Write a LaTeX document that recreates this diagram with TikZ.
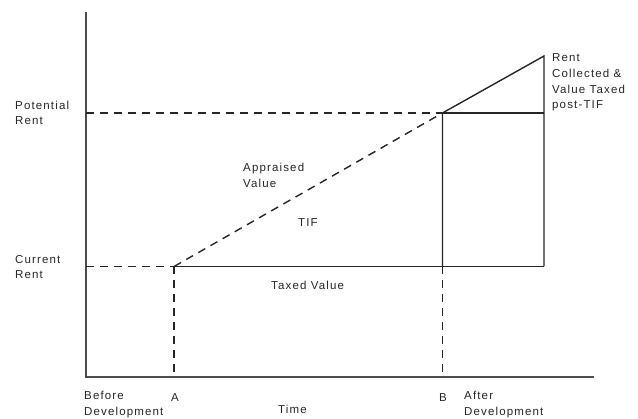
\documentclass[tikz,border=0pt]{standalone}
\usepackage{fontspec}
\setmainfont{Liberation Sans}[LetterSpace=10]
\begin{document}
\begin{tikzpicture}[x=1pt,y=-1pt,
  lbl/.style={font=\fontsize{11.5}{15.8}\selectfont, text=black!85, inner sep=0pt, align=left, anchor=base west},
  axis/.style={line width=1.9pt, black!70, line join=miter},
  solidln/.style={line width=1.4pt, black!85},
  dashln/.style={solidln, dash pattern=on 8pt off 6pt}]
\useasboundingbox (0,0) rectangle (638,419);
% points
\coordinate (O) at (86,377);
\coordinate (Ytop) at (86,12);
\coordinate (Xend) at (594,377);
\coordinate (PL) at (86,113);
\coordinate (CL) at (86,266.5);
\coordinate (A) at (174,266.5);
\coordinate (Ab) at (174,377);
\coordinate (B) at (442.5,113);
\coordinate (Bc) at (442.5,266.5);
\coordinate (Bb) at (442.5,377);
\coordinate (R) at (544,113);
\coordinate (Rt) at (544,56);
\coordinate (Rb) at (544,266.5);
% axes
\draw[axis] (Ytop) -- (O) -- (Xend);
% dashed
\draw[dashln] (PL) -- (B);
\draw[dashln] (CL) -- (A);
\draw[dashln] (A) -- (B);
\draw[dashln] (A) -- (Ab);
\draw[dashln] (Bc) -- (Bb);
% solid
\draw[solidln] (A) -- (Rb);
\draw[solidln] (Bc) -- (B) -- (Rt) -- (Rb);
\draw[solidln] (B) -- (R);
% labels (base anchor = baseline of last line)
\node[lbl] (lpot) at (15,125) {Potential\\Rent};
\node[lbl] (lcur) at (15,279) {Current\\Rent};
\node[lbl] (lrent) at (552,109) {Rent\\Collected \&\\Value Taxed\\post-TIF};
\node[lbl] (lapp) at (243,187.3) {Appraised\\Value};
\node[lbl] (ltif) at (298,227) {TIF};
\node[lbl] (ltax) at (271,290) {Taxed Value};
\node[lbl] (lbef) at (84,415.5) {Before\\Development};
\node[lbl] (la) at (171,402) {A};
\node[lbl] (lb) at (439,402) {B};
\node[lbl] (laft) at (464,415.5) {After\\Development};
\node[lbl] (ltime) at (278,414) {Time};
\end{tikzpicture}
\end{document}
